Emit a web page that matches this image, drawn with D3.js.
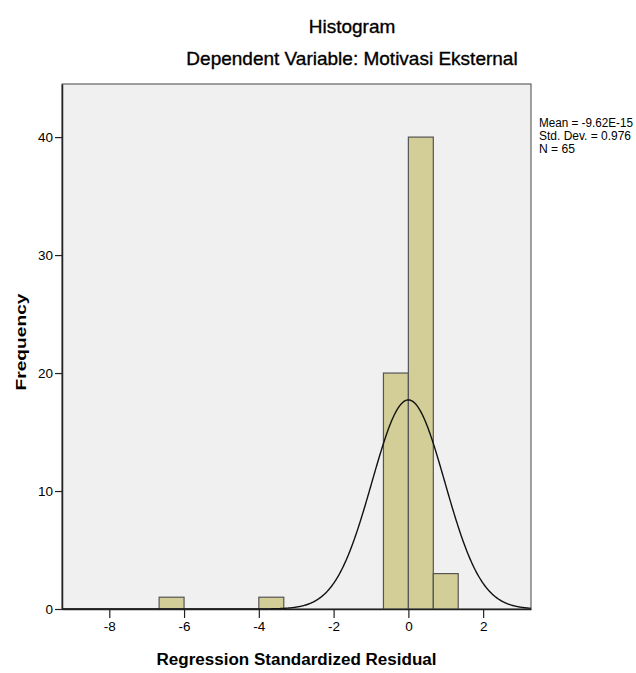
<!DOCTYPE html>
<html>
<head>
<meta charset="utf-8">
<script src="https://cdn.jsdelivr.net/npm/d3@7"></script>
<style>
  body { margin: 0; background: #fff; }
  text { font-family: "Liberation Sans", Arial, sans-serif; fill: #000; }
</style>
</head>
<body>
<div class="chart"></div>
<script>
// histogram bins (lower edge, upper edge) and counts
var binStart = [-6.667, -4.0, -0.667, 0.0, 0.667];
var binEnd   = [-6.0, -3.333, 0.0, 0.667, 1.333];
var counts   = [1, 1, 20, 40, 3];
var xTicks = [-8, -6, -4, -2, 0, 2];
var yTicks = [0, 10, 20, 30, 40];
var meanVal = 0;
var sdVal = 0.976;
var nVal = 65;
var binWidth = 0.667;
var statLines = ["Mean = -9.62E-15", "Std. Dev. = 0.976", "N = 65"];

var svgWidth = 636;
var svgHeight = 673;
var margin = {top: 84, right: 105, bottom: 64, left: 62};
var width = svgWidth - margin.left - margin.right;
var height = svgHeight - margin.top - margin.bottom;

var svg = d3.select(".chart")
  .append("svg")
  .attr("width", svgWidth)
  .attr("height", svgHeight);

var chartGroup = svg.append("g")
  .attr("transform", `translate(${margin.left}, ${margin.top})`);

var x = d3.scaleLinear().domain([-9.265, 3.28]).range([0, width]);
var y = d3.scaleLinear().domain([0, 44.5]).range([height, 0]);

// plot background
chartGroup.append("rect")
  .attr("width", width)
  .attr("height", height)
  .attr("fill", "#f0f0f0")
  .attr("stroke", "#444")
  .attr("stroke-width", 1);

// bars
chartGroup.selectAll(".bar")
  .data(counts)
  .enter()
  .append("rect")
  .attr("class", "bar")
  .attr("x", (d, i) => x(binStart[i]))
  .attr("width", (d, i) => x(binEnd[i]) - x(binStart[i]))
  .attr("y", d => y(d))
  .attr("height", d => height - y(d))
  .attr("fill", "#d3ce97")
  .attr("stroke", "#555")
  .attr("stroke-width", 1.2);

// normal curve
var pts = d3.range(-9.265, 3.28, 0.02).map(function(v) {
  var z = (v - meanVal) / sdVal;
  return [v, nVal * binWidth * Math.exp(-0.5 * z * z) / (sdVal * Math.sqrt(2 * Math.PI))];
});
chartGroup.append("path")
  .datum(pts)
  .attr("fill", "none")
  .attr("stroke", "#111")
  .attr("stroke-width", 1.4)
  .attr("d", d3.line().x(d => x(d[0])).y(d => y(d[1])));

// axes
var xAxis = chartGroup.append("g")
  .attr("transform", `translate(0, ${height})`)
  .call(d3.axisBottom(x).tickValues(xTicks).tickSize(9).tickSizeOuter(0).tickPadding(3).tickFormat(d3.format("d")));
var yAxis = chartGroup.append("g")
  .call(d3.axisLeft(y).tickValues(yTicks).tickSize(7).tickSizeOuter(0).tickPadding(2));

[xAxis, yAxis].forEach(function(a) {
  a.select(".domain").attr("stroke", "#222").attr("stroke-width", 1.5);
  a.selectAll(".tick line").attr("stroke", "#222").attr("stroke-width", 1.2);
  a.selectAll("text").style("font-size", "13.5px").style("font-family", "Liberation Sans, Arial, sans-serif").attr("fill", "#222");
});
// hyphen minus like the original
xAxis.selectAll("text").text(d => String(d));

// titles (slightly heavier than regular)
svg.append("text")
  .attr("x", 352).attr("y", 33)
  .attr("text-anchor", "middle")
  .attr("stroke", "#000").attr("stroke-width", 0.35)
  .style("font-size", "19px")
  .text("Histogram");
svg.append("text")
  .attr("x", 352).attr("y", 65)
  .attr("text-anchor", "middle")
  .attr("stroke", "#000").attr("stroke-width", 0.35)
  .style("font-size", "19px")
  .text("Dependent Variable: Motivasi Eksternal");

svg.append("text")
  .attr("x", margin.left + width / 2).attr("y", 665)
  .attr("text-anchor", "middle")
  .attr("textLength", 280)
  .attr("lengthAdjust", "spacingAndGlyphs")
  .style("font-size", "16px")
  .style("font-weight", "bold")
  .text("Regression Standardized Residual");

svg.append("text")
  .attr("transform", `translate(26, 342) rotate(-90)`)
  .attr("text-anchor", "middle")
  .attr("textLength", 97)
  .attr("lengthAdjust", "spacingAndGlyphs")
  .style("font-size", "15px")
  .style("font-weight", "bold")
  .text("Frequency");

// stats box
svg.selectAll(".stat")
  .data(statLines)
  .enter()
  .append("text")
  .attr("class", "stat")
  .attr("x", 539)
  .attr("y", (d, i) => 127 + i * 13)
  .attr("textLength", (d, i) => [94, 92, 36][i])
  .attr("lengthAdjust", "spacingAndGlyphs")
  .style("font-size", "12px")
  .text(d => d);
</script>
</body>
</html>
